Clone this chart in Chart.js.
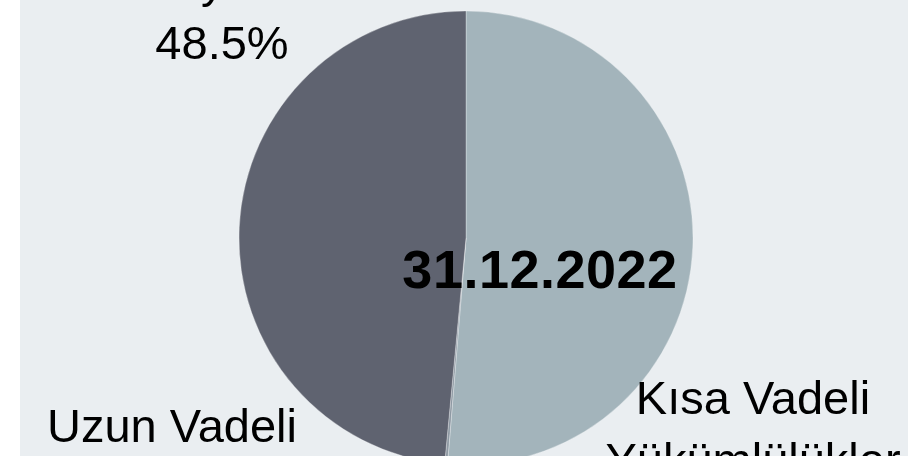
<!DOCTYPE html>
<html>
<head>
<meta charset="utf-8">
<script src="https://cdn.jsdelivr.net/npm/chart.js@4/dist/chart.umd.min.js"></script>
<style>
    html, body { margin: 0; padding: 0; background: #ffffff; overflow: hidden; }
    #wrap { position: absolute; left: 20px; top: 0; width: 888px; height: 456px; background: #eaeef1; }
</style>
</head>
<body>
<div id="wrap"><canvas id="my-chart" width="888" height="456"></canvas></div>
<script>
var categories = ["Kısa Vadeli\nYükümlülükler", "Uzun Vadeli\nYükümlülükler", "Özkaynaklar"];
var shares = [51.3, 0.2, 48.5];
var sliceColors = ["#a3b4bb", "#8e99a3", "#5f6370"];
var dateLabel = "31.12.2022";

// where each data label sits, relative to the pie centre (first line baseline)
var labelOffsets = [[287, 176], [-294, 204], [-244, -241]];

var labelPlugin = {
    id: "sliceLabels",
    afterDatasetsDraw: function (chart) {
        var ctx = chart.ctx;
        var arcs = chart.getDatasetMeta(0).data;
        var cx = arcs[0].x;
        var cy = arcs[0].y;
        ctx.save();
        ctx.fillStyle = "#000000";
        ctx.textAlign = "center";
        ctx.textBaseline = "alphabetic";
        ctx.font = "47px 'Liberation Sans', Arial, sans-serif";
        for (var i = 0; i < categories.length; i++) {
            var lines = categories[i].split("\n");
            lines.push(shares[i].toFixed(1) + "%");
            for (var j = 0; j < lines.length; j++) {
                ctx.fillText(lines[j], cx + labelOffsets[i][0], cy + labelOffsets[i][1] + j * 62);
            }
        }
        ctx.font = "bold 54px 'Liberation Sans', Arial, sans-serif";
        ctx.letterSpacing = "0.5px";
        ctx.fillText(dateLabel, cx + 74, cy + 50);
        ctx.restore();
    }
};

var chart = new Chart(document.getElementById("my-chart").getContext("2d"), {
    type: "pie",
    data: {
        labels: categories,
        datasets: [{
            data: shares,
            backgroundColor: sliceColors,
            borderColor: "rgba(255,255,255,0.3)",
            borderWidth: 1,
            radius: 227
        }]
    },
    options: {
        responsive: false,
        animation: false,
        layout: { padding: { left: 4, top: 20, right: 0, bottom: 0 } },
        plugins: {
            legend: { display: false },
            tooltip: { enabled: false }
        }
    },
    plugins: [labelPlugin]
});
</script>
</body>
</html>
